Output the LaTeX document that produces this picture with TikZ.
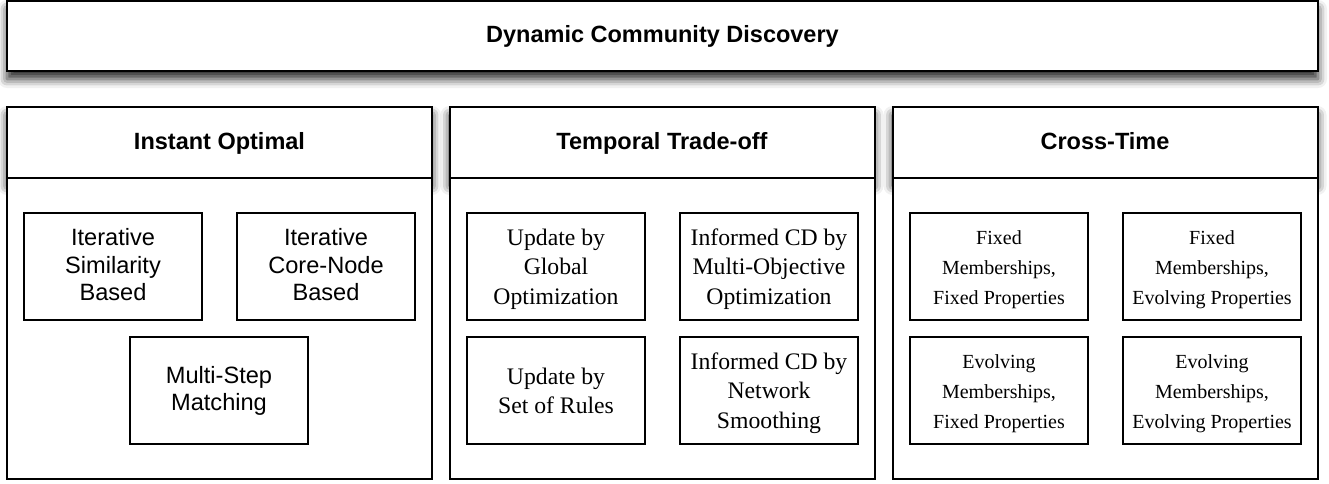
\documentclass[tikz,border=0pt]{standalone}
\usepackage{fontspec}
\setmainfont{Liberation Serif}
\newfontfamily\hv{Liberation Sans}
\usetikzlibrary{shadows.blur}
\newcommand\mystrut[2]{\rule[-#2pt]{0pt}{\dimexpr#1pt+#2pt\relax}}
\newcommand\sst{\mystrut{18}{5}}
\newcommand\ses{\mystrut{22}{5.5}}
\newcommand\ssm{\mystrut{21}{5}}
\tikzset{
  outerbox/.style={draw, line width=2pt, fill=white, inner sep=0pt},
  shadowed/.style={blur shadow={shadow xshift=0pt, shadow yshift=-8pt, shadow blur radius=9pt, shadow opacity=85}},
  boldtext/.style={font=\hv\bfseries\fontsize{23.5}{28}\selectfont},
  headbox/.style={outerbox, shadowed, boldtext, minimum width=425pt, minimum height=71pt},
  bodybox/.style={outerbox, minimum width=425pt, minimum height=301pt},
  inbox/.style={draw, line width=1.5pt, fill=white, minimum width=178pt, minimum height=107pt, inner sep=0pt, align=center},
  sansbox/.style={inbox, font=\hv\fontsize{23.6}{27.5}\selectfont},
  serifbox/.style={inbox, font=\fontsize{23.7}{29.3}\selectfont},
  smallbox/.style={inbox, font=\fontsize{20}{29.6}\selectfont},
}
\begin{document}
\begin{tikzpicture}[x=1pt, y=-1pt]
\useasboundingbox (0,0) rectangle (1329,483);
% top
\node[outerbox, shadowed, boldtext, minimum width=1311pt, minimum height=70pt] (top) at (662.5,36) {\mystrut{19.5}{5.7}Dynamic Community Discovery};
% headers
\node[headbox] (h1) at (219.5,142.5) {\mystrut{19.5}{5.7}Instant Optimal};
\node[headbox] (h2) at (662,142.5) {\mystrut{19.5}{5.7}Temporal Trade-off};
\node[headbox] (h3) at (1105,142.5) {\mystrut{19.5}{5.7}Cross-Time};
% bodies
\node[bodybox] (b1) at (219.5,328.5) {};
\node[bodybox] (b2) at (662,328.5) {};
\node[bodybox] (b3) at (1105,328.5) {};
% panel 1
\node[sansbox] (a1) at (113,266.5) {\sst Iterative\\Similarity\\Based\sst};
\node[sansbox] (a2) at (326,266.5) {\sst Iterative\\Core-Node\\Based\sst};
\node[sansbox] (a3) at (219,390.5) {\sst Multi-Step\\Matching\sst};
% panel 2
\node[serifbox] (t1) at (556,266.5) {\ses Update by\\Global\\Optimization\ses};
\node[serifbox] (t2) at (769,266.5) {\ses Informed CD by\\Multi-Objective\\Optimization\ses};
\node[serifbox] (t3) at (556,390.5) {\ses Update by\\Set of Rules\ses};
\node[serifbox] (t4) at (769,390.5) {\ses Informed CD by\\Network\\Smoothing\ses};
% panel 3
\node[smallbox] (c1) at (999,266.5) {\ssm Fixed\\Memberships,\\Fixed Properties\ssm};
\node[smallbox] (c2) at (1212,266.5) {\ssm Fixed\\Memberships,\\Evolving Properties\ssm};
\node[smallbox] (c3) at (999,390.5) {\ssm Evolving\\Memberships,\\Fixed Properties\ssm};
\node[smallbox] (c4) at (1212,390.5) {\ssm Evolving\\Memberships,\\Evolving Properties\ssm};
\end{tikzpicture}
\end{document}
